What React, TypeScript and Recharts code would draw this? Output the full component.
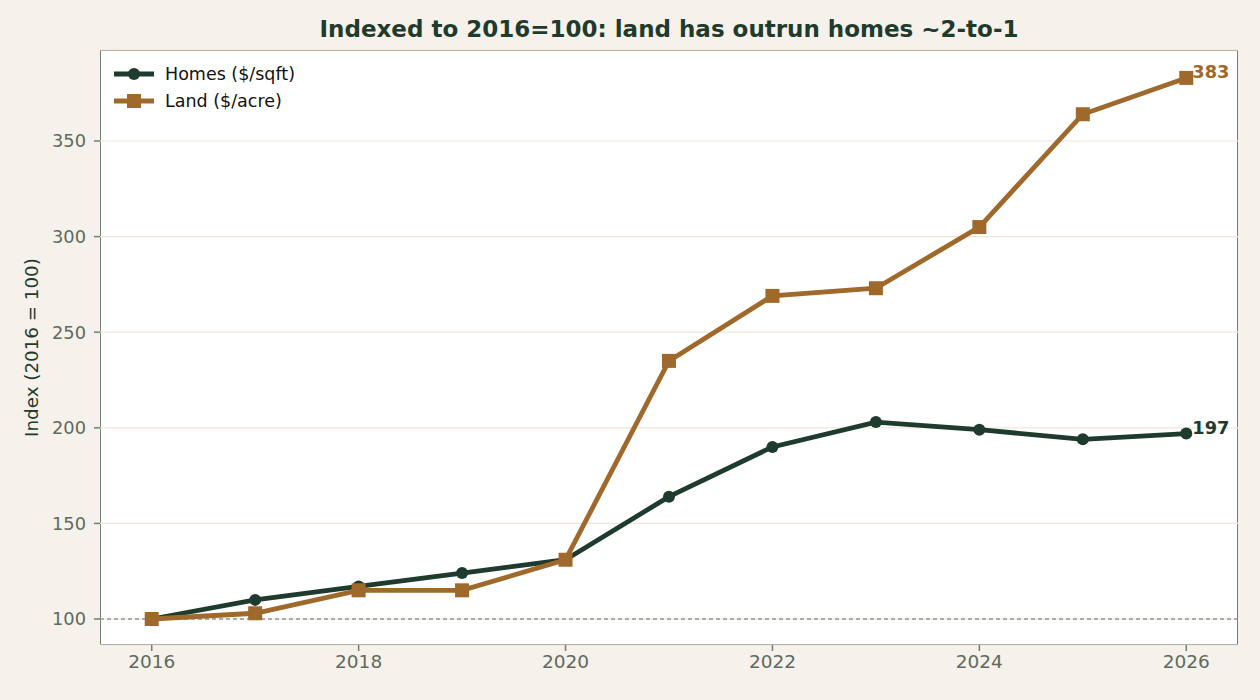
import {
  LineChart,
  Line,
  XAxis,
  YAxis,
  CartesianGrid,
  ReferenceLine,
  LabelList,
} from "recharts";

const years = [2016, 2017, 2018, 2019, 2020, 2021, 2022, 2023, 2024, 2025, 2026];
const homes = [100, 110, 117, 124, 131, 164, 190, 203, 199, 194, 197];
const land = [100, 103, 115, 115, 131, 235, 269, 273, 305, 364, 383];
const yTicks = [100, 150, 200, 250, 300, 350];
const xTicks = [2016, 2018, 2020, 2022, 2024, 2026];

const HOMES = "#1f3b2d";
const LAND = "#a0692c";
const AXIS = "#718074";
const TICK = "#5d6b60";
const FONT = "DejaVu Sans, sans-serif";
const FS = 17.8;

const data = years.map((y, i) => ({ year: y, homes: homes[i], land: land[i] }));

const SquareDot = (props: any) => {
  const { cx, cy, index } = props;
  return <rect key={`sq-${index}`} x={cx - 7} y={cy - 7} width={14} height={14} fill={LAND} />;
};

const endLabel = (color: string) => (props: any) => {
  const { x, y, index, value } = props;
  if (index !== years.length - 1) return null;
  return (
    <text x={x + 6} y={y} dy={0} fill={color} fontSize={17.8} fontWeight="bold" fontFamily={FONT}>
      {value}
    </text>
  );
};

const LegendBox = () => (
  <div style={{ fontFamily: FONT, fontSize: 17.5, color: "#111" }}>
    <div style={{ display: "flex", alignItems: "center", height: 27 }}>
      <svg width={40} height={14} style={{ marginRight: 11 }}>
        <line x1={0} y1={7} x2={40} y2={7} stroke={HOMES} strokeWidth={4.8} />
        <circle cx={20} cy={7} r={6} fill={HOMES} />
      </svg>
      Homes ($/sqft)
    </div>
    <div style={{ display: "flex", alignItems: "center", height: 27 }}>
      <svg width={40} height={14} style={{ marginRight: 11 }}>
        <line x1={0} y1={7} x2={40} y2={7} stroke={LAND} strokeWidth={4.8} />
        <rect x={13} y={0} width={14} height={14} fill={LAND} />
      </svg>
      Land ($/acre)
    </div>
  </div>
);

export default function App() {
  return (
    <div
      style={{
        position: "absolute",
        left: 0,
        top: 0,
        width: 1260,
        height: 700,
        background: "#f6f1ea",
        fontFamily: FONT,
      }}
    >
      <div
        style={{
          position: "absolute",
          left: 100,
          top: 50,
          width: 1138,
          height: 595,
          background: "#ffffff",
          boxSizing: "border-box",
          border: `1.5px solid ${AXIS}`,
        }}
      />
      <div
        style={{
          position: "absolute",
          left: 100,
          width: 1138,
          top: 16,
          textAlign: "center",
          fontSize: 23,
          fontWeight: "bold",
          color: HOMES,
        }}
      >
        Indexed to 2016=100: land has outrun homes ~2-to-1
      </div>
      <div style={{ position: "absolute", left: 0, top: 0 }}>
        <LineChart width={1260} height={700} data={data} margin={{ top: 50, right: 22, left: 0, bottom: 0 }}>
          <CartesianGrid vertical={false} stroke="#ede7d9" strokeWidth={1.2} />
          <XAxis
            dataKey="year"
            type="number"
            domain={[2015.5, 2026.5]}
            ticks={xTicks}
            height={55}
            axisLine={false}
            tickLine={{ stroke: AXIS, strokeWidth: 1.5 }}
            tickSize={6}
            tick={{ fill: TICK, fontSize: 18.5, fontFamily: FONT }}
            tickMargin={4}
          />
          <YAxis
            type="number"
            domain={[86.4, 397.6]}
            ticks={yTicks}
            width={100}
            allowDataOverflow
            axisLine={false}
            tickLine={{ stroke: AXIS, strokeWidth: 1.5 }}
            tickSize={6}
            tick={{ fill: TICK, fontSize: FS, fontFamily: FONT }}
            tickMargin={8}
            label={{
              value: "Index (2016 = 100)",
              angle: -90,
              position: "insideLeft",
              dx: 27,
              dy: 0,
              style: { fill: HOMES, fontSize: 18.3, fontFamily: FONT, textAnchor: "middle" },
            }}
          />
          <ReferenceLine y={100} stroke="#666" strokeDasharray="4 3" strokeWidth={1.2} />
          <Line
            dataKey="homes"
            stroke={HOMES}
            strokeWidth={4.8}
            dot={{ r: 6, fill: HOMES, stroke: HOMES, strokeWidth: 0 }}
            isAnimationActive={false}
          >
            <LabelList dataKey="homes" content={endLabel(HOMES)} />
          </Line>
          <Line
            dataKey="land"
            stroke={LAND}
            strokeWidth={4.8}
            dot={SquareDot}
            isAnimationActive={false}
          >
            <LabelList dataKey="land" content={endLabel(LAND)} />
          </Line>
        </LineChart>
      </div>
      <div style={{ position: "absolute", left: 114, top: 60 }}>
        <LegendBox />
      </div>
    </div>
  );
}
